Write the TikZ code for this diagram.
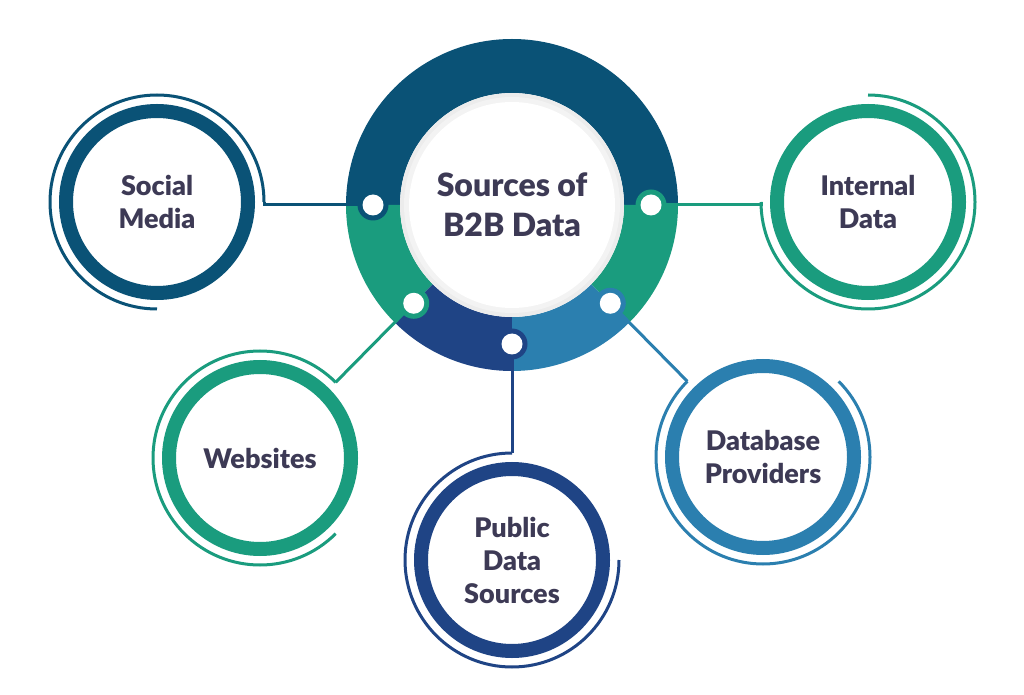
\documentclass[tikz,border=0pt]{standalone}
\usepackage{fontspec}
\setmainfont{Lato}[BoldFont={Lato Black}]
\usetikzlibrary{calc}
\definecolor{cdark}{HTML}{0A5276}
\definecolor{cgreen}{HTML}{1A9C7E}
\definecolor{cnavy}{HTML}{1F4485}
\definecolor{clight}{HTML}{2B7FAF}
\definecolor{ctext}{HTML}{3D3A55}
\tikzset{
  seg/.style={fill=#1},
  dotring/.style={circle, fill=#1, minimum size=31pt, inner sep=0pt},
  dotwhite/.style={circle, fill=white, minimum size=21pt, inner sep=0pt},
  thickring/.style={circle, draw=#1, line width=14pt, minimum size=182pt, inner sep=0pt, fill=white,
     font=\bfseries\fontsize{27}{33}\selectfont, text=ctext, align=center},
  thinarc/.style={draw=#1, line width=3pt},
  conn/.style={draw=#1, line width=3pt},
}
\begin{document}
\begin{tikzpicture}[x=1pt,y=1pt]
\useasboundingbox (0,0) rectangle (1024,694);
\coordinate (C) at (512,489);
% ring segments
\foreach \a/\b/\c in {0/180/cdark,180/225/cgreen,225/270/cnavy,270/315/clight,315/360/cgreen}{
  \fill[seg=\c] ($(C)+(\a:166)$) arc[start angle=\a,end angle=\b,radius=166]
     -- ($(C)+(\b:112)$) arc[start angle=\b,end angle=\a,radius=112] -- cycle;
}
% centre
\fill[color={rgb,255:red,236;green,236;blue,236}] (C) circle (112);
\fill[color={rgb,255:red,243;green,243;blue,243}] (C) circle (108);
\fill[white] (C) circle (103);
\node[font=\bfseries\fontsize{32}{40}\selectfont, text=ctext, align=center] (c) at (C) {Sources of\\B2B Data};
% dots
\node[dotring=cdark] (r1) at ($(C)+(180:139)$) {};
\node[dotring=cgreen] (r2) at ($(C)+(0:139)$) {};
\node[dotring=cgreen] (r3) at ($(C)+(225:139)$) {};
\node[dotring=cnavy] (r4) at ($(C)+(270:139)$) {};
\node[dotring=clight] (r5) at ($(C)+(315:139)$) {};
\node[dotwhite] (d1) at (r1) {};
\node[dotwhite] (d2) at (r2) {};
\node[dotwhite] (d3) at (r3) {};
\node[dotwhite] (d4) at (r4) {};
\node[dotwhite] (d5) at (r5) {};
% outer circles
\node[thickring=cdark] (sm) at (157,492) {Social\\Media};
\node[thickring=cgreen] (id) at (868,492) {Internal\\Data};
\node[thickring=cgreen] (ws) at (260,236) {Websites};
\node[thickring=cnavy] (pd) at (512,134) {Public\\Data\\Sources};
\node[thickring=clight] (dp) at (763,237) {Database\\Providers};
% thin arcs
\coordinate (smend) at ($(sm.center)+(0:107)$);
\coordinate (idend) at ($(id.center)+(180:107)$);
\coordinate (wsend) at ($(ws.center)+(45:107)$);
\coordinate (pdend) at ($(pd.center)+(90:107)$);
\coordinate (dpend) at ($(dp.center)+(135:107)$);
\draw[thinarc=cdark] (smend) arc[start angle=0,end angle=270,radius=107];
\draw[thinarc=cgreen] ($(id.center)+(90:107)$) arc[start angle=90,end angle=-180,radius=107];
\draw[thinarc=cgreen] (wsend) arc[start angle=45,end angle=315,radius=107];
\draw[thinarc=cnavy] (pdend) arc[start angle=90,end angle=360,radius=107];
\draw[thinarc=clight] (dpend) arc[start angle=135,end angle=405,radius=107];
% connectors
\draw[conn=cdark] (d1.west) -| (smend);
\draw[conn=cgreen] (d2.east) -| (idend);
\draw[conn=cgreen] (d3.south west) -- (wsend);
\draw[conn=cnavy] (d4.south) -- (pdend);
\draw[conn=clight] (d5.south east) -- (dpend);
\end{tikzpicture}
\end{document}
